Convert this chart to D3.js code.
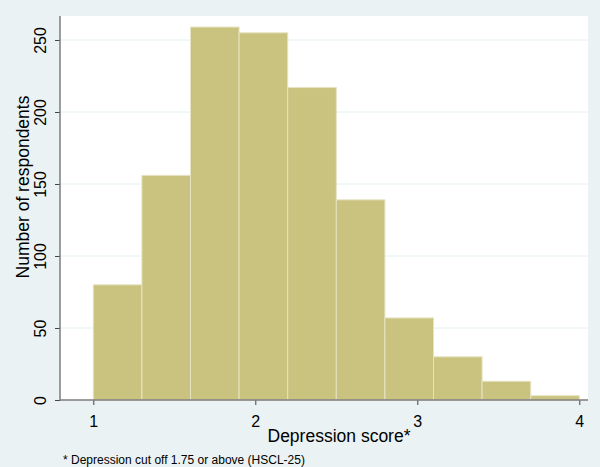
<!DOCTYPE html>
<html>
<head>
<meta charset="utf-8">
<script src="https://cdn.jsdelivr.net/npm/d3@7"></script>
<style>
  body { margin: 0; background: #eaf2f3; }
  text { font-family: "Liberation Sans", Arial, sans-serif; fill: #000; }
</style>
</head>
<body>
<div id="vis"></div>
<script>
// histogram bins (depression score, width 0.3) and counts
var binStarts = [1.0, 1.3, 1.6, 1.9, 2.2, 2.5, 2.8, 3.1, 3.4, 3.7];
var binWidth = 0.3;
var counts = [80, 156, 259, 255, 217, 139, 57, 30, 13, 3];
var xTicks = [1, 2, 3, 4];
var yTicks = [0, 50, 100, 150, 200, 250];

var W = 600, H = 467;
var pl = 60, pr = 588, pt = 16, pb = 400;  // plot region edges

var svg = d3.select("#vis").append("svg")
  .attr("width", W)
  .attr("height", H);

svg.append("rect").attr("width", W).attr("height", H).attr("fill", "#eaf2f3");
svg.append("rect")
  .attr("x", pl).attr("y", pt)
  .attr("width", pr - pl).attr("height", pb - pt)
  .attr("fill", "#fff");

var x = d3.scaleLinear().domain([1, 4]).range([93.3, 579.3]);
var y = d3.scaleLinear().domain([0, 250]).range([pb, 40]);

// gridlines
svg.selectAll(".grid").data(yTicks.slice(1)).enter().append("line")
  .attr("x1", pl).attr("x2", pr)
  .attr("y1", function(d){ return y(d) }).attr("y2", function(d){ return y(d) })
  .attr("stroke", "#e4eef0").attr("stroke-width", 1);

// bars
svg.selectAll(".bar").data(counts).enter().append("rect")
  .attr("x", function(d, i){ return x(binStarts[i]) })
  .attr("width", function(d, i){ return x(binStarts[i] + binWidth) - x(binStarts[i]) })
  .attr("y", function(d){ return y(d) })
  .attr("height", function(d){ return pb - y(d) })
  .attr("fill", "#cac37f")
  .attr("stroke", "#e6e3c2")
  .attr("stroke-width", 1);

// y axis
var ya = svg.append("g").attr("transform", "translate(" + pl + ",0)")
  .call(d3.axisLeft(y).tickValues(yTicks).tickSize(5).tickSizeOuter(0));
ya.select(".domain").remove();
ya.selectAll(".tick line").attr("stroke", "#444");
ya.selectAll(".tick text")
  .attr("x", null).attr("dy", null)
  .attr("transform", "translate(-14,0) rotate(-90)")
  .attr("text-anchor", "middle")
  .style("font-size", "16px")
  .style("font-family", "Liberation Sans, Arial, sans-serif");

// x axis
var xa = svg.append("g").attr("transform", "translate(0," + pb + ")")
  .call(d3.axisBottom(x).tickValues(xTicks).tickFormat(d3.format("d")).tickSize(5).tickSizeOuter(0));
xa.select(".domain").remove();
xa.selectAll(".tick line").attr("stroke", "#444");
xa.selectAll(".tick text")
  .attr("y", 27).attr("dy", null)
  .style("font-size", "16px")
  .style("font-family", "Liberation Sans, Arial, sans-serif");

// axis lines
svg.append("line").attr("x1", pl).attr("x2", pl).attr("y1", pt).attr("y2", pb + 0.5)
  .attr("stroke", "#7d7d7d").attr("stroke-width", 1.5);
svg.append("line").attr("x1", pl).attr("x2", pr).attr("y1", pb).attr("y2", pb)
  .attr("stroke", "#7d7d7d").attr("stroke-width", 1.5);

// titles
svg.append("text")
  .attr("transform", "translate(29,187) rotate(-90)")
  .attr("text-anchor", "middle")
  .style("font-size", "17.5px")
  .text("Number of respondents");

svg.append("text")
  .attr("x", 339).attr("y", 442)
  .attr("text-anchor", "middle")
  .style("font-size", "17.5px")
  .text("Depression score*");

svg.append("text")
  .attr("x", 63).attr("y", 464)
  .style("font-size", "12px")
  .text("* Depression cut off 1.75 or above (HSCL-25)");
</script>
</body>
</html>
